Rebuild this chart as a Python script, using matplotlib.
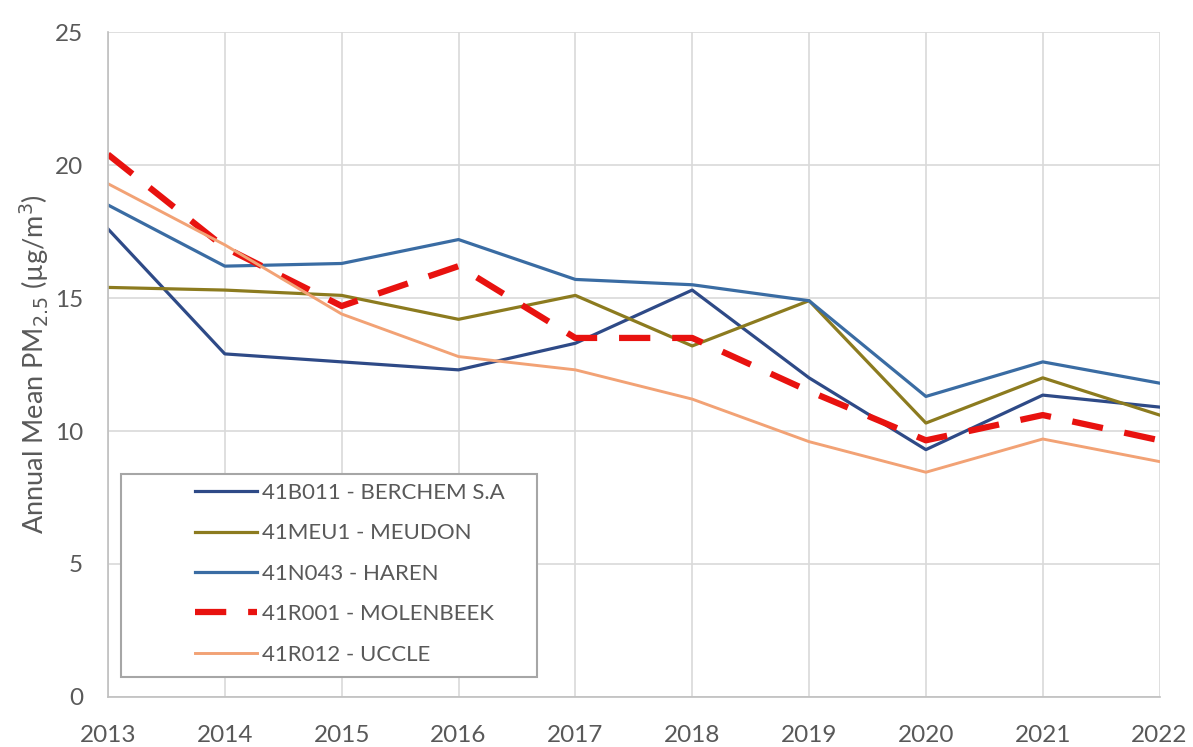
import matplotlib.pyplot as plt
from matplotlib.patches import Rectangle

# Annual mean PM2.5 per station
years = [2013, 2014, 2015, 2016, 2017, 2018, 2019, 2020, 2021, 2022]

berchem = [17.6, 12.9, 12.6, 12.3, 13.3, 15.3, 12.0, 9.3, 11.35, 10.9]
meudon = [15.4, 15.3, 15.1, 14.2, 15.1, 13.2, 14.9, 10.3, 12.0, 10.6]
haren = [18.5, 16.2, 16.3, 17.2, 15.7, 15.5, 14.9, 11.3, 12.6, 11.8]
molenbeek = [20.4, 16.9, 14.7, 16.2, 13.5, 13.5, 11.5, 9.65, 10.6, 9.65]
uccle = [19.3, 17.0, 14.4, 12.8, 12.3, 11.2, 9.6, 8.45, 9.7, 8.85]

labels = ["41B011 - BERCHEM S.A", "41MEU1 - MEUDON", "41N043 - HAREN",
          "41R001 - MOLENBEEK", "41R012 - UCCLE"]

plt.rcParams['font.family'] = ['Lato', 'DejaVu Sans']
grey = '#595959'

fig = plt.figure(figsize=(11.93, 7.47), dpi=100)
ax = fig.add_axes([0.0905, 0.067, 0.972 - 0.0905, 0.957 - 0.067])

ax.plot(years, berchem, color='#2E4A87', lw=2.3, label=labels[0])
ax.plot(years, meudon, color='#8C7B1F', lw=2.3, label=labels[1])
ax.plot(years, haren, color='#3A6CA3', lw=2.3, label=labels[2])
ax.plot(years, molenbeek, color='#E8120F', lw=4.5, dashes=(5, 3.5),
        label=labels[3])
ax.plot(years, uccle, color='#F2A275', lw=2.1, label=labels[4])

ax.set_xlim(2013, 2022)
ax.set_ylim(0, 25)
ax.set_xticks(years)
ax.set_yticks(range(0, 26, 5))
ax.grid(True, color='#D9D9D9', lw=1.2)
ax.set_axisbelow(True)
for s in ['top', 'right']:
    ax.spines[s].set_visible(False)
for s in ['left', 'bottom']:
    ax.spines[s].set_color('#BFBFBF')
    ax.spines[s].set_linewidth(1.2)
ax.tick_params(length=0, labelsize=17.5, labelcolor=grey)
ax.tick_params(axis='x', pad=20)
ax.tick_params(axis='y', pad=18)
ax.set_ylabel('Annual Mean PM$_{2.5}$ (µg/m$^3$)', fontsize=19.5, color=grey,
              labelpad=3)

# legend box drawn separately to keep the wide left indent
ax.add_patch(Rectangle((0.0124, 0.030), 0.396, 0.305, transform=ax.transAxes,
                       facecolor='white', edgecolor='#A6A6A6', lw=1.5,
                       zorder=5))
leg = ax.legend(loc='upper left', bbox_to_anchor=(0.083, 0.322), frameon=False,
                fontsize=16, handlelength=2.8, handletextpad=0.2,
                labelspacing=0.92, borderpad=0, borderaxespad=0)
leg.set_zorder(6)
for t in leg.get_texts():
    t.set_color(grey)

fig.savefig('out.png', dpi=100)
